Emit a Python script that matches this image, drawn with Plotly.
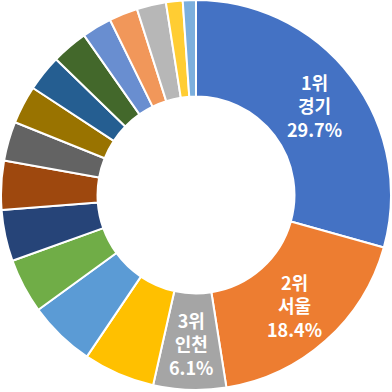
import math
import plotly.graph_objects as go

regions = ["경기", "서울", "인천", "부산", "경남", "대구", "경북", "충남", "대전",
           "전북", "충북", "광주", "강원", "전남", "울산", "제주", "세종"]
shares = [29.7, 18.4, 6.1, 6.0, 5.6, 4.6, 4.3, 4.1, 3.3,
          3.2, 3.05, 3.05, 2.5, 2.4, 2.45, 1.4, 1.1]
colors = ["#4472C4", "#ED7D31", "#A5A5A5", "#FFC000", "#5B9BD5", "#70AD47",
          "#264478", "#9E480E", "#636363", "#997300", "#255E91", "#43682B",
          "#698ED0", "#F1975A", "#B7B7B7", "#FFCD33", "#7CAFDD"]
top_n = 3

fig = go.Figure(go.Pie(
    labels=regions,
    values=shares,
    textinfo="none",
    marker=dict(colors=colors, line=dict(color="white", width=2)),
    hole=0.505,
    sort=False,
    direction="clockwise",
    rotation=0,
    hoverinfo="none",
))

# labels for the top slices, placed in the middle of each slice's ring
total = sum(shares)
cum = 0.0
label_r = 0.38  # fraction of paper (outer radius = 0.5)
for i, (r, v) in enumerate(zip(regions, shares)):
    mid = (cum + v / 2) / total * 2 * math.pi
    cum += v
    if i >= top_n:
        continue
    fig.add_annotation(
        x=0.5 + label_r * math.sin(mid), y=0.5 + label_r * math.cos(mid),
        xref="paper", yref="paper", showarrow=False, align="center",
        xanchor="center", yanchor="middle",
        text=f"{i+1}위<br>{r}<br>{v:.1f}%",
        font=dict(family="Noto Sans CJK KR", size=18, color="white", weight="bold"),
    )

fig.update_layout(
    width=392, height=392,
    margin=dict(l=1, r=1, t=0, b=2),
    showlegend=False,
    paper_bgcolor="white",
    hovermode=False,
)
fig.write_html("out.html", post_script="document.body.style.margin='0';",
               config={"displayModeBar": False, "staticPlot": True})
